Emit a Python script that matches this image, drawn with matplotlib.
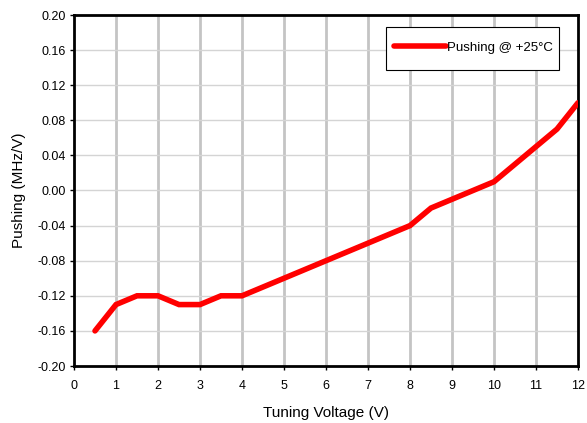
import numpy as np
import matplotlib.pyplot as plt
from matplotlib.patches import Rectangle

# pushing vs tuning voltage
voltage = [0.5, 1, 1.5, 2, 2.5, 3, 3.5, 4, 5, 6, 7, 8, 8.5, 9, 10, 11, 11.5, 12]
pushing = [-0.16, -0.13, -0.12, -0.12, -0.13, -0.13, -0.12, -0.12, -0.10,
           -0.08, -0.06, -0.04, -0.02, -0.01, 0.01, 0.05, 0.07, 0.10]
series_label = 'Pushing @ +25°C'

plt.rcParams['font.family'] = ['Liberation Sans', 'DejaVu Sans']

W, H = 587, 423
fig = plt.figure(figsize=(W / 100, H / 100), dpi=100)
ax = fig.add_axes([74/W, 1 - 366/H, 504/W, 351/H])

ax.plot(voltage, pushing, color='#ff0000', lw=4, solid_capstyle='round',
        solid_joinstyle='miter', label=series_label, zorder=3)

ax.set_xlim(0, 12)
ax.set_ylim(-0.20, 0.20)
ax.set_xticks(np.arange(0, 13, 1))
yt = np.arange(-0.20, 0.201, 0.04)
ax.set_yticks(yt)
ax.set_yticklabels([f'{v:.2f}' for v in yt])

# grid: vertical darker/thicker, horizontal lighter
for x in range(1, 12):
    ax.axvline(x, color='#c4c4c4', lw=2, zorder=1)
for y in yt[1:-1]:
    ax.axhline(y, color='#d4d4d4', lw=1, zorder=1)

for s in ax.spines.values():
    s.set_linewidth(2)
    s.set_color('black')
ax.tick_params(direction='out', length=3, width=1, labelsize=9)
ax.tick_params(axis='x', pad=7)
ax.tick_params(axis='y', pad=3)

ax.set_xlabel('Tuning Voltage (V)', fontsize=11, labelpad=10)
ax.set_ylabel('Pushing (MHz/V)', fontsize=11, labelpad=8)

# legend box is taller than the entry, so draw the frame by hand
box = Rectangle((386/W, 1 - 70/H), 173/W, 43/H, transform=fig.transFigure,
                facecolor='white', edgecolor='black', lw=0.8, zorder=4)
ax.add_artist(box)
leg = ax.legend(loc='center', frameon=False, fontsize=9.5, handlelength=3.9,
                handletextpad=0.1, borderpad=0, borderaxespad=0)
leg.set_bbox_to_anchor((473.5/W, 1 - 48/H), transform=fig.transFigure)
leg.set_zorder(5)

fig.savefig('out.png', dpi=100)
